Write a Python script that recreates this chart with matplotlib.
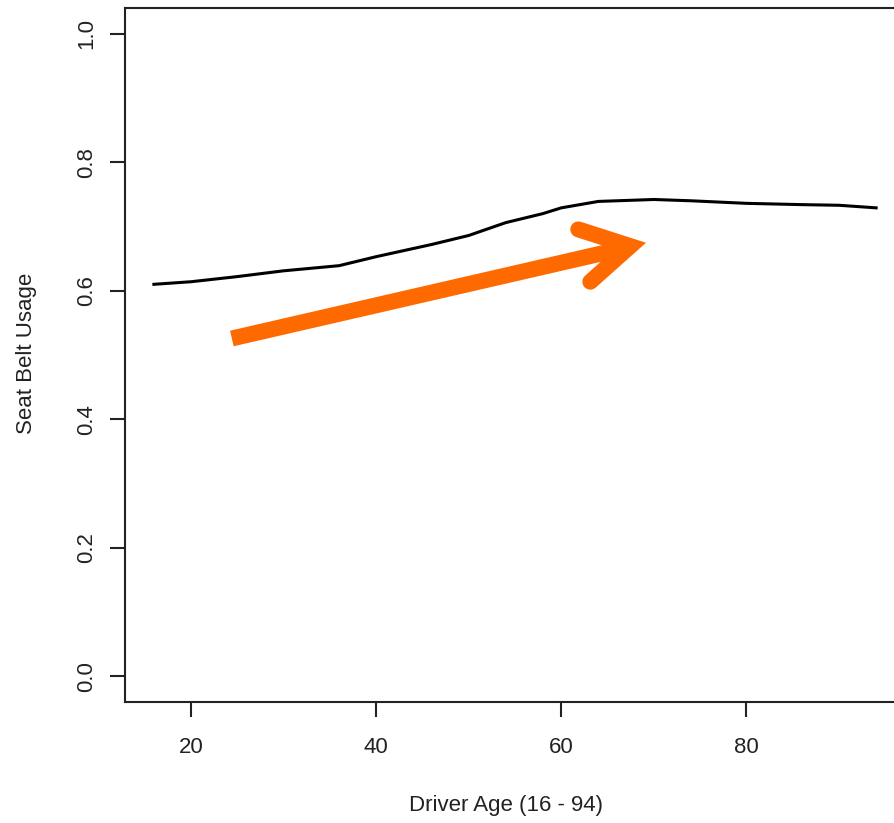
import matplotlib.pyplot as plt

plt.rcParams['font.family'] = ['Liberation Sans', 'DejaVu Sans']

# smoothed seat belt usage by driver age
age = [16, 20, 25, 30, 36, 40, 46, 50, 54, 58, 60, 64, 70, 74, 80, 86, 90, 94]
usage = [0.610, 0.614, 0.622, 0.631, 0.639, 0.653, 0.672, 0.686, 0.706, 0.720,
         0.729, 0.739, 0.742, 0.740, 0.736, 0.734, 0.733, 0.729]

x_ticks = [20, 40, 60, 80]
y_ticks = [0.0, 0.2, 0.4, 0.6, 0.8, 1.0]

# orange trend arrow (data coords)
shaft_start = (24.42, 0.5257)
shaft_end = (66.6, 0.6655)
head_vertex = (67.45, 0.6695)
arm_a = (61.83, 0.6955)
arm_b = (63.13, 0.6140)

fig = plt.figure(figsize=(8.94, 8.23), dpi=100)
ax = fig.add_axes([125 / 894, 1 - 702 / 823, (905 - 125) / 894, (702 - 8) / 823])

ax.plot(age, usage, color='black', lw=2.2)

orange = '#ff6a00'
ax.plot([shaft_start[0], shaft_end[0]], [shaft_start[1], shaft_end[1]],
        color=orange, lw=11.5, solid_capstyle='butt')
ax.plot([arm_a[0], head_vertex[0], arm_b[0]], [arm_a[1], head_vertex[1], arm_b[1]],
        color=orange, lw=11.5, solid_capstyle='round', solid_joinstyle='miter')

ax.set_xlim(12.88, 97.12)
ax.set_ylim(-0.04, 1.04)
ax.set_xticks(x_ticks)
ax.set_yticks(y_ticks)
ax.set_xticklabels([str(v) for v in x_ticks])
ax.set_yticklabels(['%.1f' % v for v in y_ticks], rotation=90, va='center')

ax.spines['right'].set_visible(False)
for s in ['left', 'bottom', 'top']:
    ax.spines[s].set_linewidth(1.5)
    ax.spines[s].set_color('#222222')
ax.tick_params(axis='both', length=11, width=1.5, color='#222222',
               labelsize=16, labelcolor='#222222')
ax.tick_params(axis='x', pad=14)
ax.tick_params(axis='y', pad=9)

fig.text(506 / 894, 1 - 806 / 823, 'Driver Age (16 - 94)', ha='center', va='center',
         fontsize=16, color='#222222')
fig.text(27 / 894, 1 - 353 / 823, 'Seat Belt Usage', ha='center', va='center',
         rotation=90, fontsize=16, color='#222222')

plt.savefig('out.png', dpi=100)
